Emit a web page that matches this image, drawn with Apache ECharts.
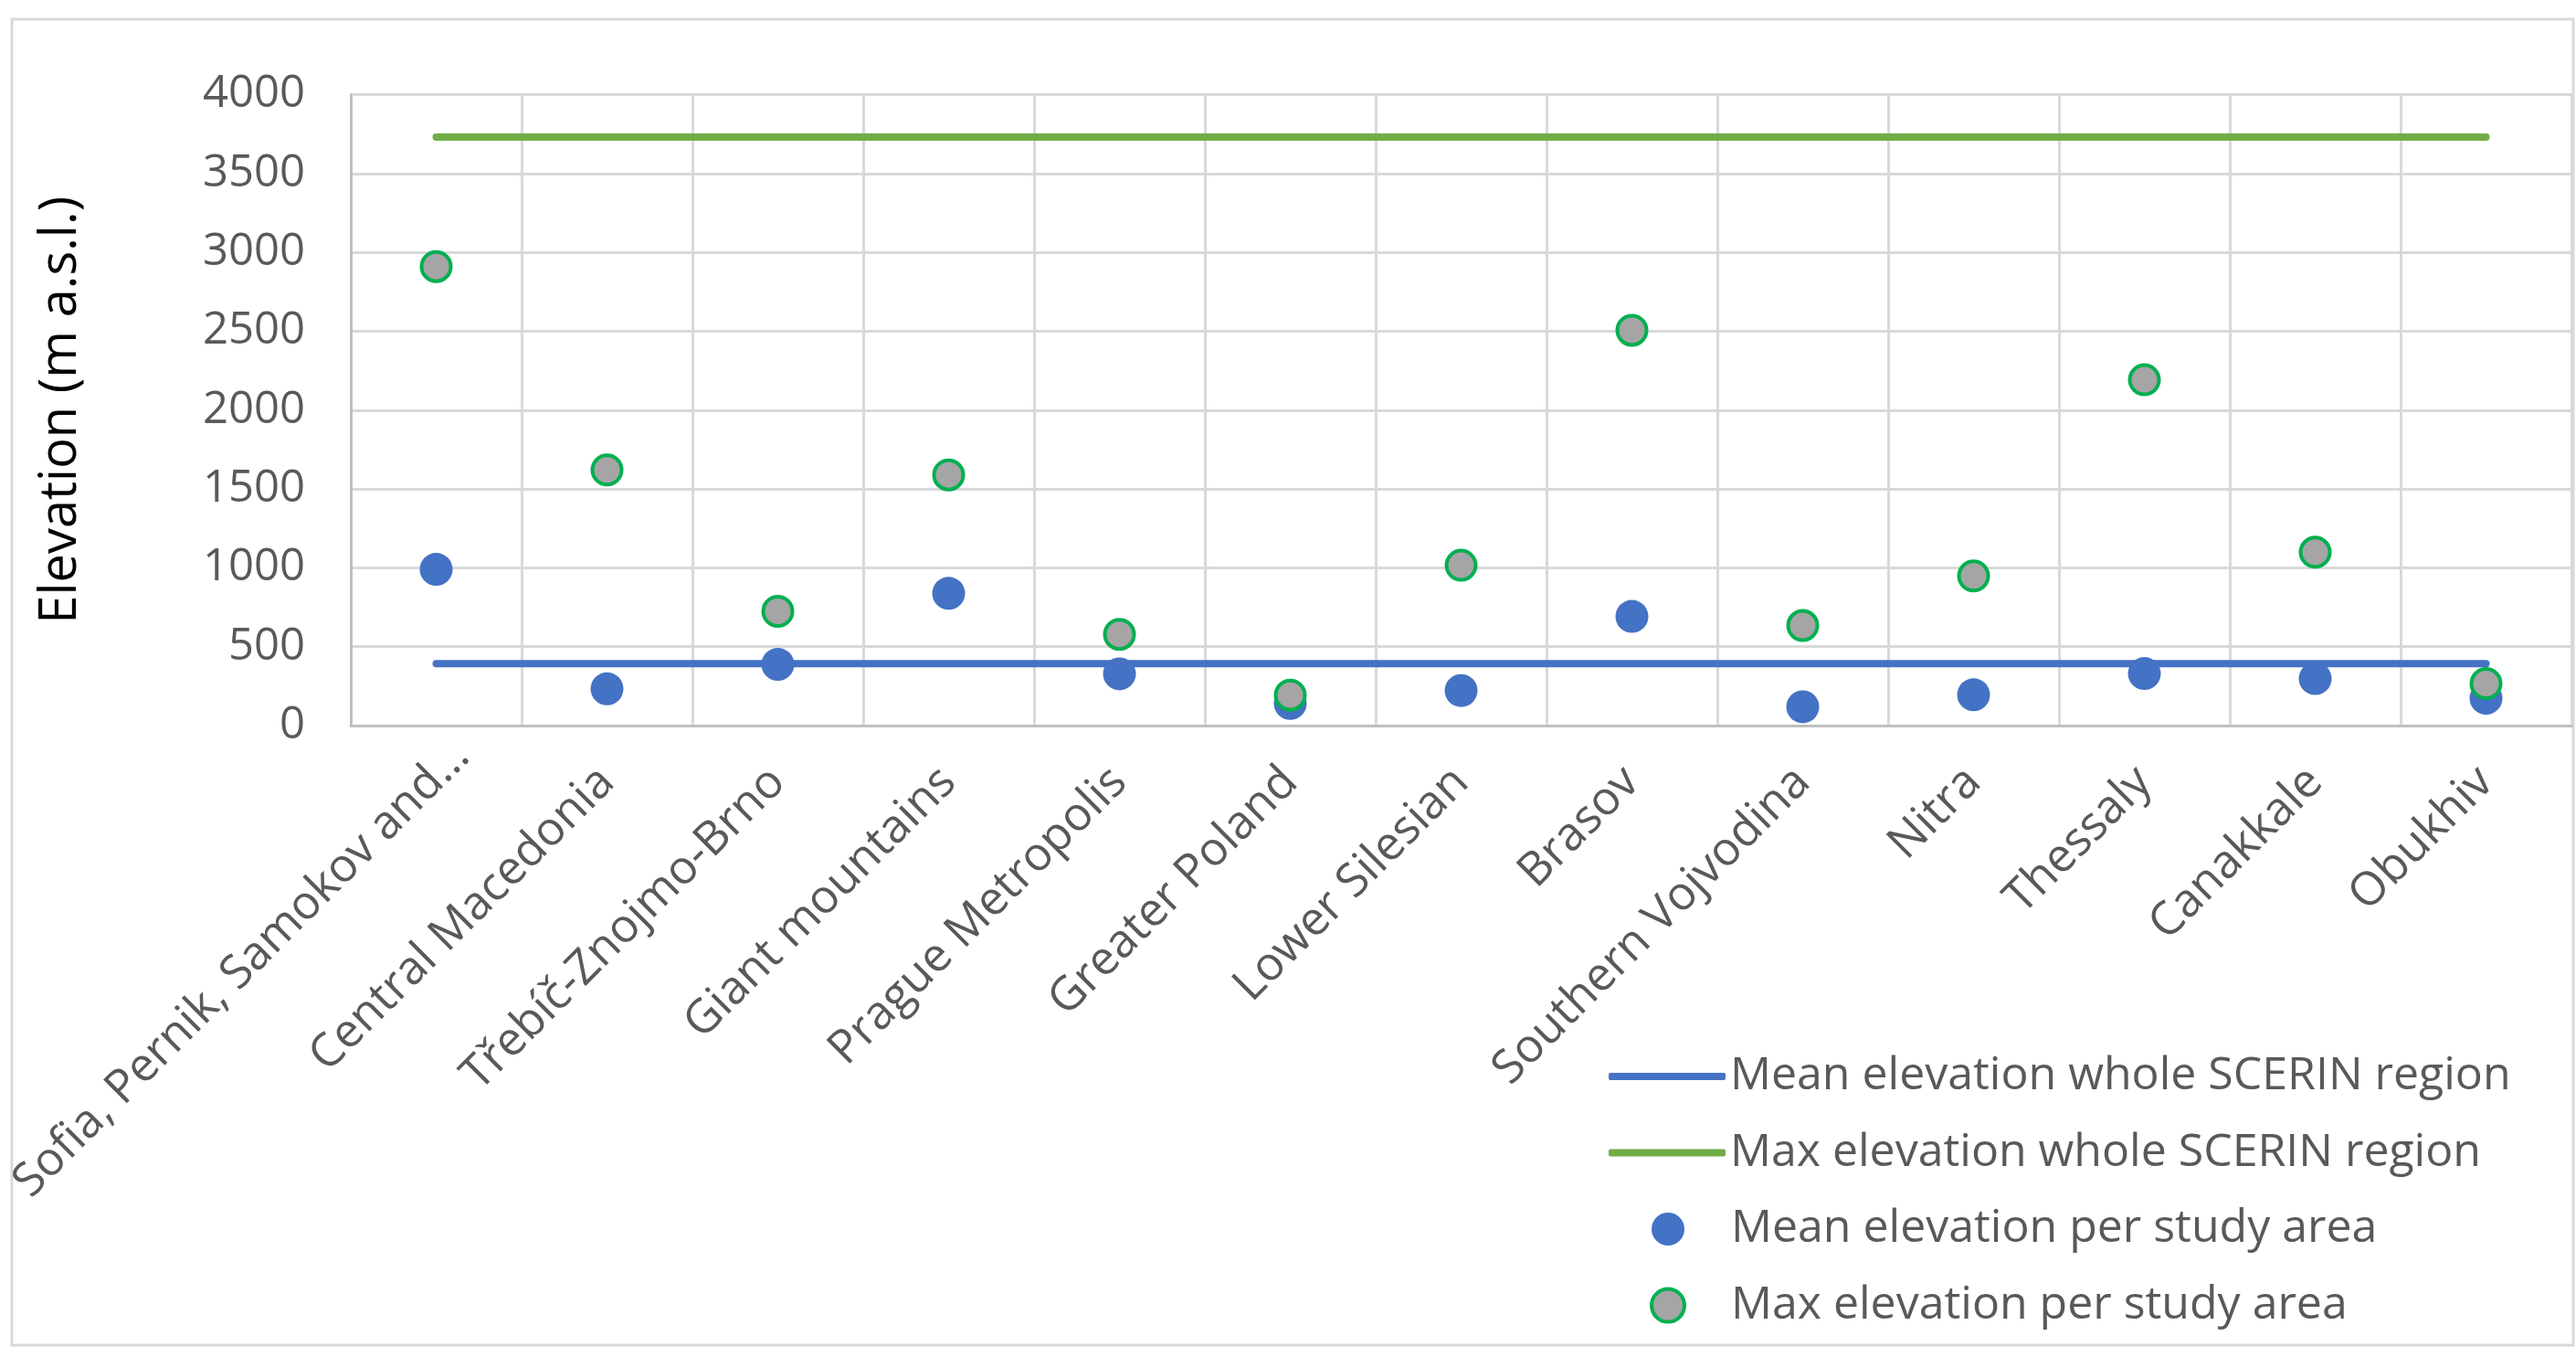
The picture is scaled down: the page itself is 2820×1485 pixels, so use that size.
<!DOCTYPE html>
<html>
<head>
<meta charset="utf-8">
<script src="https://cdn.jsdelivr.net/npm/echarts@6/dist/echarts.min.js"></script>
<style>
html, body { margin: 0; padding: 0; background: #fff; }
#chart { width: 2820px; height: 1485px; }
</style>
</head>
<body>
<div id="chart"></div>
<script>
// study areas
var categories = ['Sofia, Pernik, Samokov and…', 'Central Macedonia', 'Třebíč-Znojmo-Brno', 'Giant mountains',
    'Prague Metropolis', 'Greater Poland', 'Lower Silesian', 'Brasov', 'Southern Vojvodina', 'Nitra',
    'Thessaly', 'Canakkale', 'Obukhiv'];
var meanPerArea = [990, 233, 388, 838, 328, 140, 222, 692, 119, 195, 330, 298, 173];
var maxPerArea = [2910, 1620, 724, 1589, 578, 193, 1016, 2506, 634, 948, 2192, 1099, 266];
var meanWhole = 392;
var maxWhole = 3730;
var yTicks = [0, 4000, 500]; // min, max, step

var gray = '#595959';
var font = 'Open Sans';

// the truncated first label sits further up-right in the original
var categoryData = categories.map(function (c, i) {
    return i === 0 ? { value: c, textStyle: { padding: [0, -40, 0, 0] } } : c;
});

var chart = echarts.init(document.getElementById('chart'));
var option = {
    backgroundColor: '#fff',
    animation: false,
    textStyle: { fontFamily: font },
    graphic: [{
        type: 'rect',
        shape: { x: 13, y: 21, width: 2804, height: 1451 },
        style: { fill: 'none', stroke: '#d9d9d9', lineWidth: 3 },
        z: -1
    }],
    grid: {
        left: 384,
        right: 5,
        top: 103.5,
        bottom: 1485 - 794,
        containLabel: false,
        outerBoundsMode: 'none'
    },
    legend: [{
        orient: 'vertical',
        left: 1756,
        top: 1143,
        itemWidth: 128,
        itemHeight: 8,
        itemGap: 23.6,
        icon: 'roundRect',
        textStyle: { color: gray, fontSize: 50, lineHeight: 60, padding: [0, 0, 0, 0], fontFamily: font },
        data: [
            { name: 'Mean elevation whole SCERIN region', itemStyle: { color: '#4472C4' } },
            { name: 'Max elevation whole SCERIN region', itemStyle: { color: '#70AD47' } }
        ]
    }, {
        orient: 'vertical',
        left: 1801,
        top: 1310,
        itemWidth: 36,
        itemHeight: 36,
        itemGap: 23.6,
        icon: 'circle',
        textStyle: { color: gray, fontSize: 50, lineHeight: 60, padding: [0, 0, 0, 46], fontFamily: font },
        data: [
            { name: 'Mean elevation per study area', itemStyle: { color: '#4472C4' } },
            { name: 'Max elevation per study area', itemStyle: { color: '#A5A5A5', borderColor: '#00B050', borderWidth: 4 } }
        ]
    }],
    xAxis: {
        type: 'category',
        data: categoryData,
        boundaryGap: true,
        axisTick: { show: false },
        axisLine: { show: true, lineStyle: { color: '#BFBFBF', width: 3 } },
        splitLine: { show: true, interval: 0, lineStyle: { color: '#D9D9D9', width: 3 } },
        axisLabel: {
            interval: 0,
            rotate: 45,
            margin: 54,
            color: gray,
            fontSize: 51,
            fontFamily: font
        }
    },
    yAxis: {
        type: 'value',
        min: yTicks[0],
        max: yTicks[1],
        interval: yTicks[2],
        name: 'Elevation (m a.s.l.)',
        nameLocation: 'middle',
        nameGap: 289,
        nameTextStyle: { color: '#000', fontSize: 56, fontFamily: font },
        axisLine: { show: true, lineStyle: { color: '#BFBFBF', width: 3 } },
        axisTick: { show: false },
        splitLine: { lineStyle: { color: '#D9D9D9', width: 3 } },
        axisLabel: {
            color: gray, fontSize: 49, margin: 50, fontFamily: font,
            formatter: function (v) { return String(v); }
        }
    },
    series: [{
        name: 'Mean elevation whole SCERIN region',
        type: 'line',
        data: categories.map(function () { return meanWhole; }),
        symbol: 'none',
        lineStyle: { color: '#4472C4', width: 8, cap: 'round' },
        itemStyle: { color: '#4472C4' },
        z: 2
    }, {
        name: 'Max elevation whole SCERIN region',
        type: 'line',
        data: categories.map(function () { return maxWhole; }),
        symbol: 'none',
        lineStyle: { color: '#70AD47', width: 8, cap: 'round' },
        itemStyle: { color: '#70AD47' },
        z: 2
    }, {
        name: 'Mean elevation per study area',
        type: 'scatter',
        data: meanPerArea,
        symbol: 'circle',
        symbolSize: 36,
        itemStyle: { color: '#4472C4', opacity: 1 },
        z: 3
    }, {
        name: 'Max elevation per study area',
        type: 'scatter',
        data: maxPerArea,
        symbol: 'circle',
        symbolSize: 32,
        itemStyle: { color: '#A5A5A5', borderColor: '#00B050', borderWidth: 4, opacity: 1 },
        z: 4
    }]
};
chart.setOption(option);
</script>
</body>
</html>
